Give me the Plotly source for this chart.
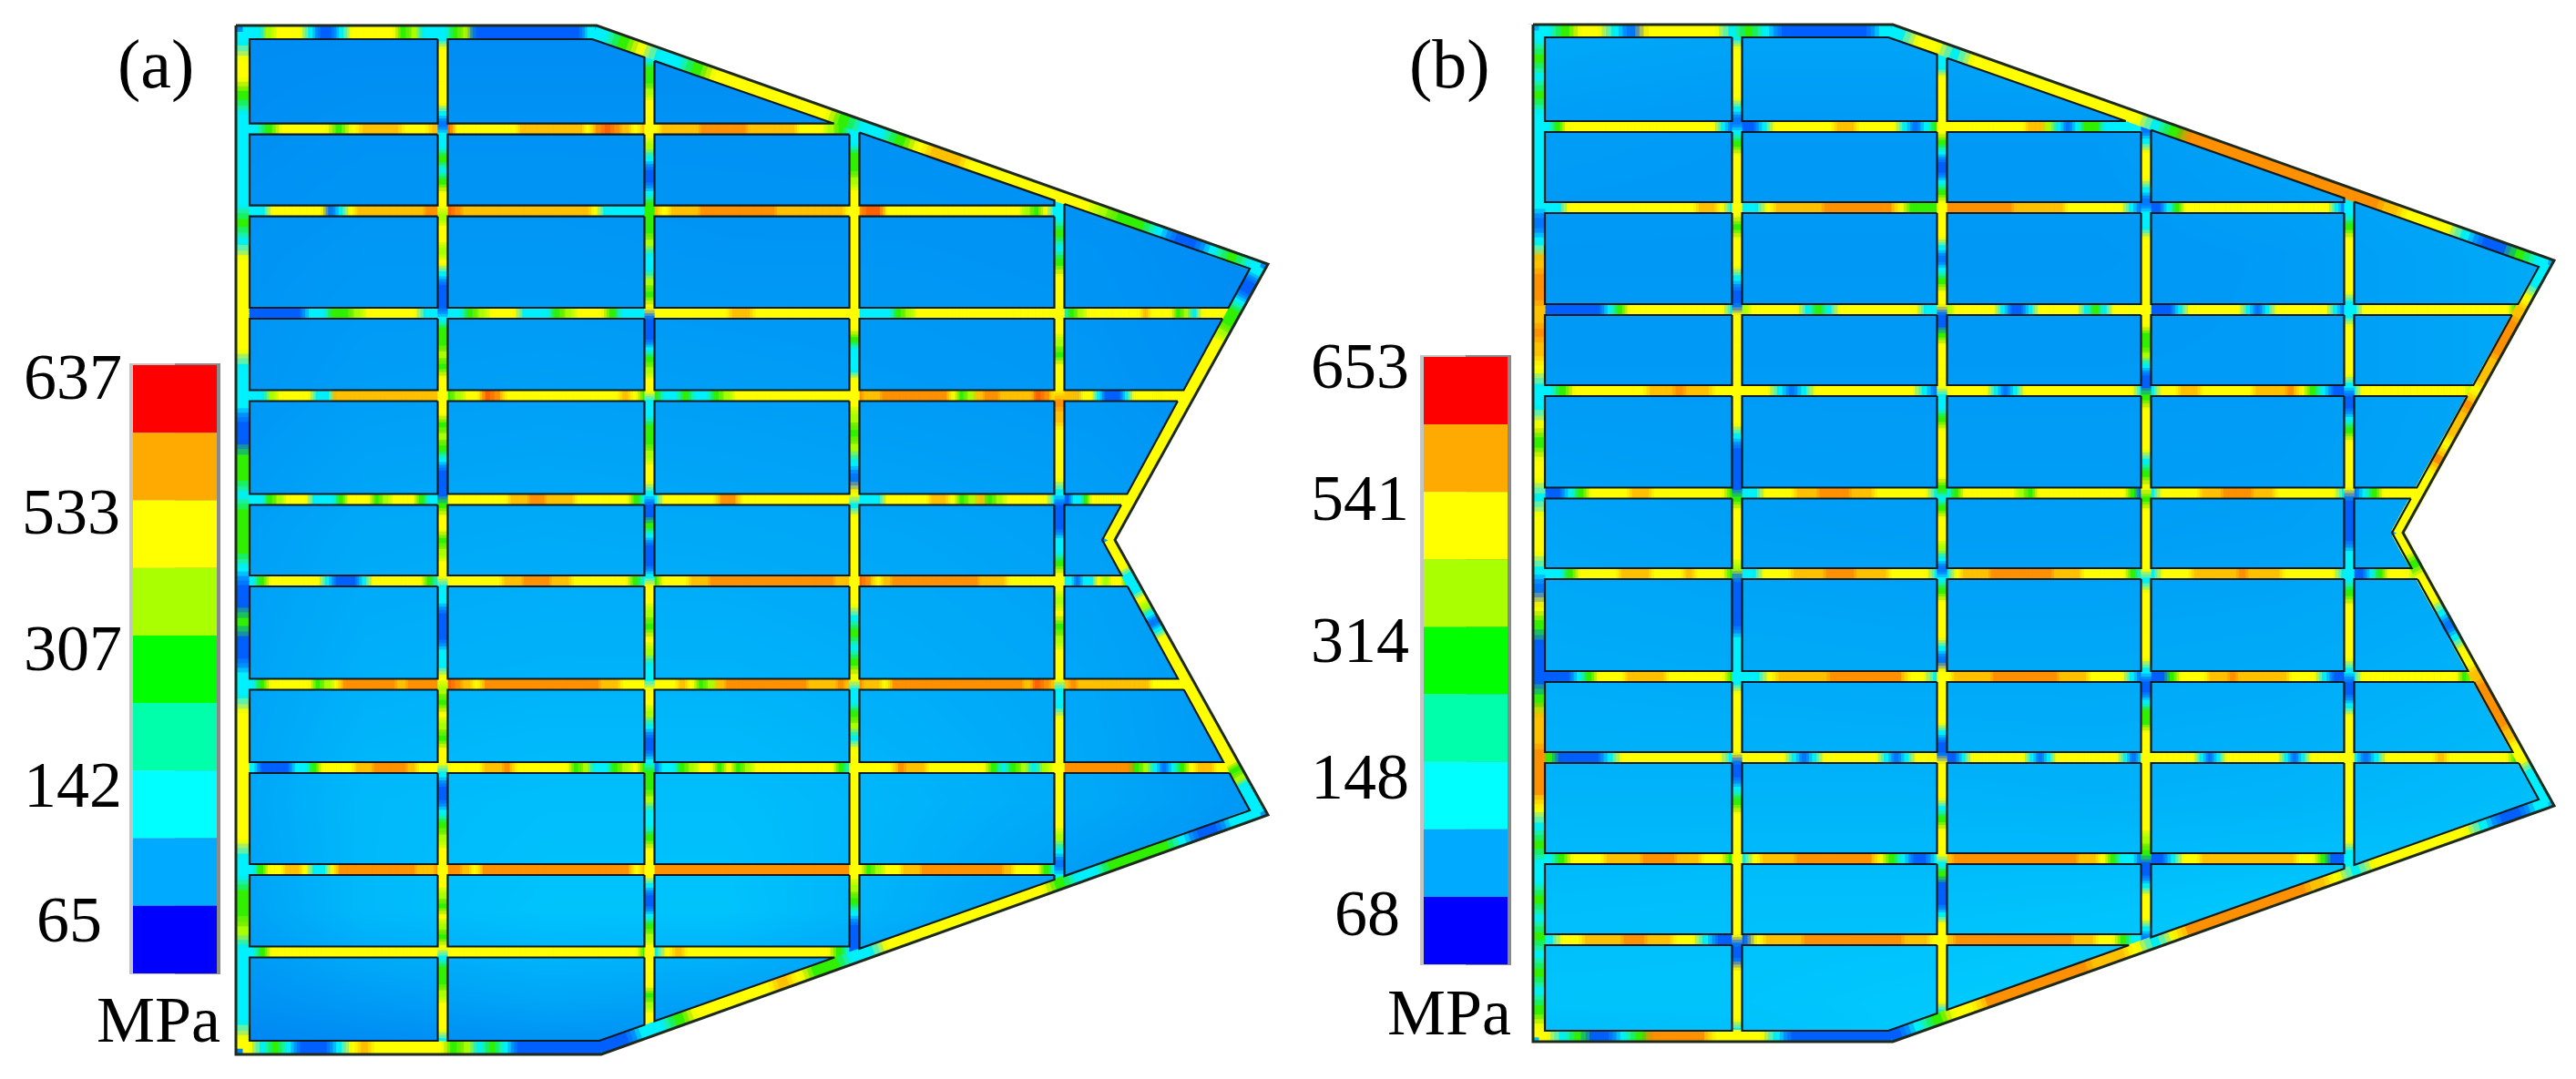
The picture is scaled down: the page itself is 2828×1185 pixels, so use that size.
import numpy as np
import plotly.graph_objects as go

# stress classes seen along the stiffeners
stress_colors = dict(b="#0068ff", c="#00f4ff", g="#28e800", l="#a8ff00", y="#ffff00",
                     a="#ffc800", o="#ff9600", r="#ff5a00")

band_colors = ["#ff0000", "#ffaa00", "#ffff00", "#aaff00", "#00ff00", "#00ffaa", "#00ffff", "#00aaff", "#0000ff"]

# panel (a)
ticks_a = ["637", "533", "307", "142", "65"]
tick_y_a = [414, 562, 712, 862, 1010]
tick_x_a = [80, 78, 80, 80, 76]
bar_a = [146, 238, 401, 1069]

outer_a = [(259, 28), (655, 28), (1392, 290), (1224, 593), (1392, 895), (660, 1158), (259, 1158)]
inner_a = [(274, 42), (650, 43), (1372, 295), (1210, 593), (1372, 890), (658, 1143), (274, 1143)]
rows_a = [141.7, 231.7, 344, 434.5, 548.5, 638, 751.5, 843, 955, 1045.5]
cols_a = [486, 713, 938, 1163]

plate_x_a = [260, 400, 600, 800, 1000, 1200, 1390]
plate_y_a = [30, 130, 280, 430, 580, 730, 880, 1000, 1100, 1157]
plate_a = [
    [140, 140, 140, 140, 140, 140, 135],
    [142, 146, 146, 146, 145, 142, 135],
    [148, 152, 152, 150, 150, 148, 138],
    [150, 158, 160, 158, 155, 152, 142],
    [158, 168, 170, 168, 165, 160, 150],
    [162, 175, 178, 178, 172, 165, 150],
    [165, 185, 190, 190, 180, 168, 150],
    [160, 185, 195, 195, 175, 150, 140],
    [145, 155, 165, 160, 150, 140, 135],
    [130, 135, 140, 140, 140, 135, 135],
]

h_a = [
    ["cgyyyygyaaayya", "ryyyyyyyaaaaaaayoroaya", "yaaaaoooooaaaaayyylgc"],
    ["ccyyyyyybcyaaaaaaaoo", "roaaaaaaaaaaaaayccccc", "ayaaaooooooooaaaaaaay", "orryyyyyyyyyyyyyyylgyc", "c"],
    ["bbbbbccgglyyyyycc", "ccglyyycccglyyygccc", "yyyyyyyaayyyyyyyyy", "ccccglyyyyyyyyyyyyyyy", "cglyyyyyyyayyyglcyyyy"],
    ["cclyyyyccaaaaaaaaaaaa", "glyyroyyyyyyyyyyyyayg", "gccgccglyyyyyyyyyyyy", "oaaooooooooyglaooaaaaroy", "aaayycbbbcyyyyyyyy"],
    ["ccglyyycccgyyyglyyygcc", "yyyyyyyaaooaaayyyyyygc", "cyyyyyyooyyyyyyyyyyyy", "cccyyyyyaayglaglyyyyyc", "bbccgyyyyyyy"],
    ["cgyyyyyycbbbcyyyyyygc", "yyyyyyaaoooaayyyyyygc", "gyyyaaoooooooooooooaa", "royaooooooooooaaayyyyyy", "ccbccylyyg"],
    ["cgyyyyyglyooooooaoooo", "roayooooooooooooaayyy", "yyyayglaoooooooooaaaoa", "oaayoooooooooooooooaroa", "aoaaaaaaaayyyy"],
    ["cbbbbccgyyyyaaooooayyy", "yyyyaaoyyyyyyglccglyg", "bccglyygyglyyyyyyyyygc", "yyyyoaayyyyyygcglcly", "ooooooooglcbcgyaayy"],
    ["cgyyaayccyoooooooooaao", "ooayooooooooooooooooya", "ooooooooooooooooooooo", "yglyyaaoooooooooayyygc", "c"],
    ["cgyyyyyyyyyyyyyyyyyy", "yyyyyyyyyyyyyyyyyyyyyg", "cyayyyyyyyyyyyyygc"],
]
v_a = [
    ["cyyyyyycb", "ccgcgyy", "lyylycbbb", "cgglgyy", "yyglgcbbb", "gyyglyy", "ccbbbccy", "lgylgyy", "cbbcglyy", "yylgylgy", "cgglyyyc"],
    ["cgglyyy", "ylcbbcg", "gglcclgy", "bbbcglyy", "ccgglyyc", "bbgcbbbc", "yylgylcc", "yylcbbc", "gglccgyy", "ycbbcgly", "yyyyglyy"],
    ["ccgglyy", "yyyyyyy", "yygcccyy", "ylglcby", "cyyyyyy", "yycgcgy", "ccglcyy", "yyyyyyy", "ylgcbbb", "c"],
    ["c", "cgcgyyy", "yylgyyy", "oayyyyc", "bbbccgy", "ylyglyyy", "ccyyyy", "yyyyylcb", "c"],
]
flange_left_a = "cyygccccccgcyyyyyycccbbggcgggcbbgbbccyyyyyyyyccgglcccccy"
flange_top_a = "cclyyycbbcyyyyyglcccglbbbbbbbbbbbc"
flange_slant_top_a = "cgyccgyyyyyyygccgyaayyyyyyylggcbbcgc"
flange_upper_a = "cbbcgglyyyyyyyyyyyyyyyyyyyy"
flange_lower_a = "yyyycccylcbcyyyyyyyyyyyyyyyyyglcccc"
flange_slant_bot_a = "bbccgyyyyyayggccyyyyyyyyyygccggggcbbcc"
flange_bottom_a = "ycgcbbbcyayyyyyyglcgcbbbbbbb"

# panel (b)
ticks_b = ["653", "541", "314", "148", "68"]
tick_y_b = [402, 547, 703, 853, 1003]
tick_x_b = [1493, 1493, 1493, 1493, 1501]
bar_b = [1563, 1655, 392, 1059]

outer_b = [(1683, 27), (2078, 27), (2804, 286), (2638, 585), (2804, 885), (2078, 1144), (1683, 1144)]
inner_b = [(1696, 40), (2073, 41), (2787, 293), (2626, 585), (2787, 878), (2073, 1132), (1696, 1132)]
rows_b = [139, 228, 340, 429, 541.5, 630, 743, 832, 943, 1032]
cols_b = [1907, 2132, 2356, 2579]

plate_x_b = [1685, 1900, 2100, 2300, 2500, 2800]
plate_y_b = [30, 130, 280, 430, 580, 730, 880, 1000, 1100, 1157]
plate_b = [
    [170, 165, 165, 175, 185, 190],
    [158, 155, 155, 155, 165, 175],
    [152, 152, 152, 152, 155, 170],
    [155, 155, 155, 155, 155, 170],
    [165, 160, 158, 158, 160, 170],
    [172, 170, 168, 168, 170, 180],
    [180, 180, 180, 178, 180, 190],
    [190, 192, 192, 195, 200, 200],
    [195, 195, 200, 205, 205, 205],
    [185, 190, 200, 205, 205, 205],
]

h_b = [
    ["cgyyyyyyyyyyyyyyyycb", "bbcyyyyyyaayyyycbcg", "yyyyyyyyyaalcbcggccccc"],
    ["ccyyyyyyyyyyyyyaayc", "ccyaaaaooooooyggg", "oooooooaaaaayyyyyycb", "bbcgyyyyyyyyyyyyyyyyycb", "cc"],
    ["bbbbbbcgyyyyyyyyyyc", "lyyyyycgcyyyyyyyycc", "lyyyyycbbcyyyyycgcyyyy", "bbbcyyyyyycbcyyyyyycb", "cyyyyyyyyyyyyyyyyg"],
    ["cgyyyyyyaaoaayy", "yyycbcyyyyyyyyycb", "yyyyycbcyyyyyyyyyyyyc", "cyyaayyyyyaaaoygcbb", "cyyyyyyyyyyyyyl"],
    ["bbcgyyyyaayyyyyyyg", "ccyyyaaoooaayyyyyc", "cgyyyyyylgyyyyyyyyyygb", "cyyyyaaoooaayyyyyyc", "bcgyyyy"],
    ["ccgyyyyaaayyyayyyg", "ccyyyaaaoooaaayyyyc", "cyaaaoooooooaaayyyyygc", "cyyyaaaaoaaayyyyyc", "bbcgyyyl"],
    ["bbbcgyyyaaaayyyyyyg", "ccyaaaaooooooyyc", "yaaaaoooooooaaayyyycb", "bbgyyyaaoaaaaayyycbb", "cyyyyyyyyyyyygl"],
    ["gbbbbcyyyyyyyyyc", "yyyyycbcyyyyyycbcyyy", "bbcyyyyyyycbcyyyyyyyycbc", "yyyyyycbcyyyyyyycbcyyyyy", "cbcyyyyyayyyyyyg"],
    ["cgyyyaaaoooaayyg", "cyaaaoooooooygcbbc", "aoooooooooooooaaygccb", "bbcyyaaaaaaaaayygbb", "c"],
    ["cyyaaaooaayycbb", "byaaaooooooooaay", "aoooooooooooaayygcc"],
]
v_b = [
    ["cyyyyycb", "cgyyyyy", "ygyyycbb", "yyyyyyyy", "yyycbbbb", "gyyyyyl", "bbbbccc", "cyyyyyy", "bbcgyyyy", "yyyyyyyy", "bbyyyyyc"],
    ["ccyyyyy", "ygcbbcgy", "yyycbcgyy", "bbgyyyyy", "ccgyyyyyg", "cgyyylcb", "cgyyyycby", "yyyyycbb", "yyyycgyyy", "cgbbbcyy", "yyyyyyc"],
    ["bcyyycb", "ccyyyyyy", "yygglcbb", "gyyyycgy", "gyyyyyy", "cyyyyyyc", "bbcggyyy", "yyyyyylg", "bbcyyycb", "c"],
    ["c", "cgyyyyyc", "cyyyyyc", "bbcgyyyyy", "bbbbcc", "cgyyyyyc", "bbcyyyy", "yyyyyyyc", "c"],
]
flange_left_b = "cgcgccccccbcaooaoayccygyycyyycbygbbbgaaoooycgccgcgcgcgy"
flange_top_b = "cgyycbyyyyycgcbbbbbbc"
flange_slant_top_b = "cyycyyyyyyyyyycgoooooooooooayyycbbgc"
flange_upper_b = "ccyaoooaayoaayoyyyyy"
flange_lower_b = "yygyyycbcyyaooooayyccc"
flange_slant_bot_b = "bcgyyooooooaaycyoooooooaycyyyyyycbbc"
flange_bottom_b = "ycgbbcgooooyyyycbbbbbbb"


def rgb(hex_color):
    return np.array([int(hex_color[i:i + 2], 16) for i in (1, 3, 5)], dtype=float)


def add_runs(groups, pts, bays):
    # pts are the nodes along the beam, bays hold one class string per node pair
    stations = []
    for (p0, p1), text in zip(zip(pts[:-1], pts[1:]), bays):
        p0, p1 = np.array(p0, dtype=float), np.array(p1, dtype=float)
        step = (p1 - p0) / len(text)
        for i, ch in enumerate(text):
            stations.append((p0 + step * i, p0 + step * (i + 1), ch))
    for k, (a, b, ch) in enumerate(stations):
        prev_c = rgb(stress_colors[stations[max(k - 1, 0)][2]])
        next_c = rgb(stress_colors[stations[min(k + 1, len(stations) - 1)][2]])
        here = rgb(stress_colors[ch])
        for j, u in enumerate([-0.375, -0.125, 0.125, 0.375]):
            w = max(0, abs(u) - 0.1) * 1.25
            c = here * (1 - w) + (prev_c if u < 0 else next_c) * w
            c = (np.round(c / 24) * 24).clip(0, 255).astype(int)
            key = f"rgb({c[0]},{c[1]},{c[2]})"
            s0 = a + (b - a) * j / 4
            s1 = a + (b - a) * (j + 1.25) / 4
            xs, ys = groups.setdefault(key, ([], []))
            xs += [s0[0], s1[0], None]
            ys += [s0[1], s1[1], None]


def cell_outlines(inner, rows, cols):
    chain = inner[1:6]
    cy = [p[1] for p in chain]
    cx = [p[0] for p in chain]
    xmax = lambda y: np.interp(y, cy, cx)
    xs, ys = [], []
    y_edges = [inner[0][1]] + [v for r in rows for v in (r - 6, r + 6)] + [inner[-1][1]]
    x_edges = [inner[0][0]] + [v for c in cols for v in (c - 5.5, c + 5.5)] + [3000]
    for yt0, yb0 in zip(y_edges[0::2], y_edges[1::2]):
        for xl, xr in zip(x_edges[0::2], x_edges[1::2]):
            if max(xmax(yt0), xmax(yb0)) < xl + 40:
                continue
            # a rib that stops at this column does not close the cell, the edge runs on to the skin
            yt = yt0 - 16 if xmax(yt0) < xl + 40 else yt0
            yb = yb0 + 16 if xmax(yb0) < xl + 40 else yb0
            yt, yb = max(yt, cy[0]), min(yb, cy[-1])
            cand = {yt, yb}
            for v in cy:
                if yt < v < yb:
                    cand.add(v)
            for (x0, y0), (x1, y1) in zip(chain[:-1], chain[1:]):
                for edge in (xl, xr):
                    if x0 != x1 and min(x0, x1) < edge < max(x0, x1):
                        v = y0 + (edge - x0) / (x1 - x0) * (y1 - y0)
                        if yt < v < yb:
                            cand.add(v)
            keep = sorted(v for v in cand if xmax(v) >= xl - 0.01)
            if len(keep) < 2:
                continue
            right = [(min(xr, xmax(v)), v) for v in keep]
            poly = right + [(xl, keep[-1]), (xl, keep[0]), right[0]]
            px = np.array([p[0] for p in poly])
            py = np.array([p[1] for p in poly])
            xs += list(px) + [None]
            ys += list(py) + [None]
    return xs, ys


def panel_runs(inner, outer, rows, cols, h, v, flanges):
    chain = inner[1:6]
    xend = lambda y: np.interp(y, [p[1] for p in chain], [p[0] for p in chain])
    left = inner[0][0]
    ymin = lambda x: np.interp(x, [inner[0][0], inner[1][0], inner[2][0]], [inner[0][1], inner[1][1], inner[2][1]])
    ymax = lambda x: np.interp(x, [inner[6][0], inner[5][0], inner[4][0]], [inner[6][1], inner[5][1], inner[4][1]])
    for y, bays in zip(rows, h):
        end = float(xend(y))
        kept = [c for c in cols if c < end]
        if kept and end - kept[-1] < 45:
            stop = kept.pop()
        else:
            stop = end + 6
        nodes = [left - 2] + kept + [stop]
        add_runs(hor_groups, [(n, y) for n in nodes], bays)
    for x, bays in zip(cols, v):
        y0, y1 = float(ymin(x)), float(ymax(x))
        nodes = [y0 - 6] + [r for r in rows if y0 < r < y1] + [y1 + 6]
        add_runs(ver_groups, [(x, n) for n in nodes], bays)
    mid = [((a[0] + b[0]) / 2, (a[1] + b[1]) / 2) for a, b in zip(outer, inner)]
    for i0, i1, text in flanges:
        add_runs(fla_groups, [mid[i0], mid[i1]], [text])


hor_groups, ver_groups, fla_groups = {}, {}, {}
panel_runs(inner_a, outer_a, rows_a, cols_a, h_a, v_a, [
    (0, 1, flange_top_a), (1, 2, flange_slant_top_a), (2, 3, flange_upper_a), (3, 4, flange_lower_a),
    (5, 4, flange_slant_bot_a), (6, 5, flange_bottom_a), (0, 6, flange_left_a)])
panel_runs(inner_b, outer_b, rows_b, cols_b, h_b, v_b, [
    (0, 1, flange_top_b), (1, 2, flange_slant_top_b), (2, 3, flange_upper_b), (3, 4, flange_lower_b),
    (5, 4, flange_slant_bot_b), (6, 5, flange_bottom_b), (0, 6, flange_left_b)])

fig = go.Figure()

plate_scale = [[0, "rgb(0,120,240)"], [1, "rgb(0,210,255)"]]
for px, py, pz in [(plate_x_a, plate_y_a, plate_a), (plate_x_b, plate_y_b, plate_b)]:
    fig.add_trace(go.Heatmap(x=px, y=py, z=pz, zmin=120, zmax=210, zsmooth="best",
                             colorscale=plate_scale, showscale=False, hoverinfo="skip"))

# white cover around each plate outline
for outer, (bx0, bx1) in [(outer_a, (0, 1520)), (outer_b, (1520, 2828))]:
    loop = [outer[0]] + outer[:0:-1] + [outer[0]]
    mx = [bx0, bx1, bx1, bx0, bx0] + [p[0] for p in loop] + [bx0]
    my = [0, 0, 1185, 1185, 0] + [p[1] for p in loop] + [0]
    fig.add_trace(go.Scatter(x=mx, y=my, mode="lines", fill="toself", fillcolor="white",
                             line=dict(width=0), hoverinfo="skip"))

for groups, width in [(hor_groups, 12.6), (ver_groups, 11.2), (fla_groups, 14)]:
    for color, (xs, ys) in groups.items():
        fig.add_trace(go.Scatter(x=xs, y=ys, mode="lines", line=dict(color=color, width=width),
                                 connectgaps=False, hoverinfo="skip"))

for inner, rows, cols in [(inner_a, rows_a, cols_a), (inner_b, rows_b, cols_b)]:
    xs, ys = cell_outlines(inner, rows, cols)
    fig.add_trace(go.Scatter(x=xs, y=ys, mode="lines", line=dict(color="#0c1a22", width=2.2), hoverinfo="skip"))

for outer in (outer_a, outer_b):
    loop = outer + [outer[0]]
    fig.add_trace(go.Scatter(x=[p[0] for p in loop], y=[p[1] for p in loop], mode="lines",
                             line=dict(color="#1e2a1c", width=3), hoverinfo="skip"))

# stepped legend bars
for x0, x1, y0, y1 in (bar_a, bar_b):
    for fx0, fx1, frame in [(x0 - 4, (x0 + x1) / 2, "#c4c4c4"), ((x0 + x1) / 2, x1 + 4, "#8a8a8a")]:
        fig.add_trace(go.Scatter(x=[fx0, fx1, fx1, fx0, fx0], y=[y0 - 2, y0 - 2, y1 + 1, y1 + 1, y0 - 2],
                                 mode="lines", fill="toself", fillcolor=frame, line=dict(width=0), hoverinfo="skip"))
    edges = np.linspace(y0, y1, len(band_colors) + 1)
    for top, bottom, color in zip(edges[:-1], edges[1:], band_colors):
        fig.add_trace(go.Scatter(x=[x0, x1, x1, x0, x0], y=[top, top, bottom, bottom, top], mode="lines",
                                 fill="toself", fillcolor=color, line=dict(width=0), hoverinfo="skip"))

serif = dict(family="Liberation Serif", color="black", size=72)
notes = []
for text, x, y in zip(ticks_a + ticks_b, tick_x_a + tick_x_b, tick_y_a + tick_y_b):
    notes.append(dict(text=text, x=x, y=y))
notes.append(dict(text="MPa", x=174, y=1120))
notes.append(dict(text="MPa", x=1591, y=1112))
for n in notes:
    fig.add_annotation(xref="x", yref="y", showarrow=False, font=serif, xanchor="center", yanchor="middle", **n)
panel_font = dict(family="Liberation Serif", color="black", size=76)
fig.add_annotation(text="(a)", x=171, y=70, xref="x", yref="y", showarrow=False, font=panel_font)
fig.add_annotation(text="(b)", x=1591, y=70, xref="x", yref="y", showarrow=False, font=panel_font)

fig.update_layout(
    width=2828, height=1185, showlegend=False,
    margin=dict(l=0, r=0, t=0, b=0),
    paper_bgcolor="white", plot_bgcolor="white",
    xaxis=dict(range=[0, 2828], visible=False),
    yaxis=dict(range=[1185, 0], visible=False),
)

fig.write_html("out.html", config=dict(displayModeBar=False),
               post_script="document.body.style.margin='0';document.body.style.overflow='hidden';")
